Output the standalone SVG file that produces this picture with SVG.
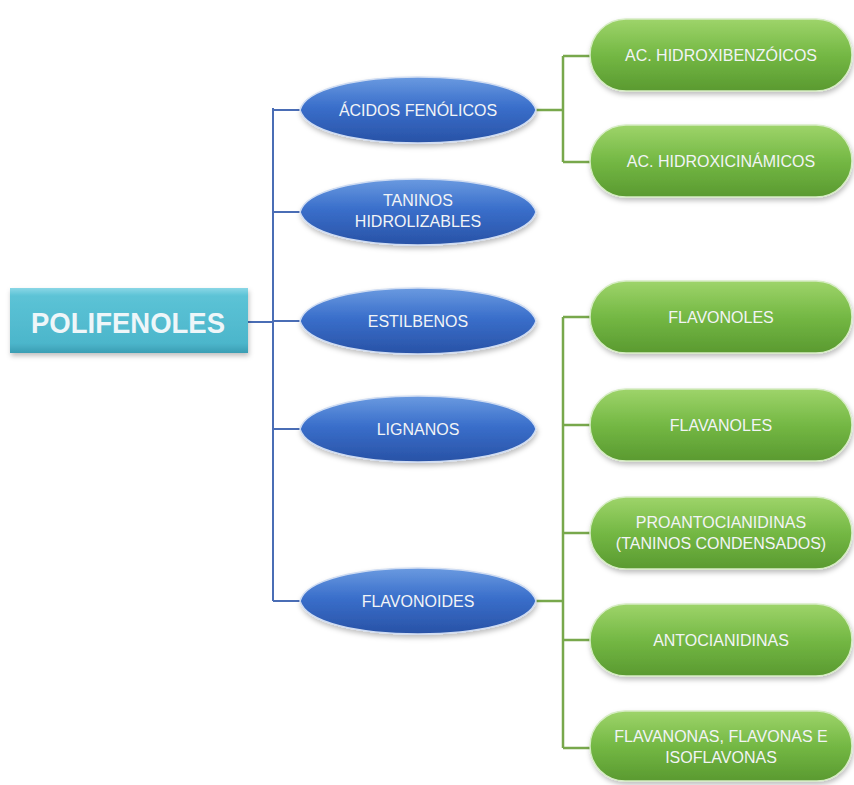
<svg xmlns="http://www.w3.org/2000/svg" width="854" height="785" viewBox="0 0 854 785">
<defs>
<linearGradient id="gBlue" x1="0" y1="0" x2="0" y2="1">
<stop offset="0" stop-color="#6a9ae0"/>
<stop offset="0.45" stop-color="#3a6fcb"/>
<stop offset="1" stop-color="#2852a6"/>
</linearGradient>
<linearGradient id="gGreen" x1="0" y1="0" x2="0" y2="1">
<stop offset="0" stop-color="#9ed46a"/>
<stop offset="0.5" stop-color="#74b844"/>
<stop offset="1" stop-color="#5a9a30"/>
</linearGradient>
<linearGradient id="gTeal" x1="0" y1="0" x2="0" y2="1">
<stop offset="0" stop-color="#8ad7e6"/>
<stop offset="0.12" stop-color="#5cc3d6"/>
<stop offset="0.85" stop-color="#4cb6cb"/>
<stop offset="1" stop-color="#3a9db3"/>
</linearGradient>
<filter id="sh" x="-10%" y="-20%" width="120%" height="150%">
<feDropShadow dx="1" dy="3" stdDeviation="2.5" flood-color="#000" flood-opacity="0.25"/>
</filter>
<path id="lens" d="M-118 0 C-112 -22 -58 -33 0 -33 C58 -33 112 -22 118 0 C112 22 58 33 0 33 C-58 33 -112 22 -118 0 Z"/>
</defs>
<style>
.blue{fill:url(#gBlue);stroke:#cfdcf2;stroke-width:1.5;filter:url(#sh)}
.green{fill:url(#gGreen);stroke:#d6ecc4;stroke-width:1.5;filter:url(#sh)}
.t{font-family:"Liberation Sans",Arial,sans-serif;font-size:16px;fill:#f2f4f6;text-anchor:middle}
.bl{fill:none;stroke:#4a6db5;stroke-width:2}
.gl{fill:none;stroke:#78a84c;stroke-width:2.5}
</style>
<rect width="854" height="785" fill="#ffffff"/>
<g id="connectors">
<path class="bl" d="M248 322 H273 M273 108 V601 M273 110 H302 M273 212 H302 M273 321 H302 M273 429 H302 M273 601 H302"/>
<path class="gl" d="M536 110 H563 M563 56 V162 M563 56 H592 M563 162 H592"/>
<path class="gl" d="M536 601 H563 M563 317 V748 M563 317 H592 M563 425 H592 M563 533 H592 M563 640 H592 M563 748 H592"/>
</g>
<g id="polifenoles">
<rect x="10" y="288" width="238" height="65" fill="url(#gTeal)" filter="url(#sh)"/>
<text x="128" y="333" font-family="Liberation Sans,Arial,sans-serif" font-weight="bold" font-size="30" fill="#eef6f9" text-anchor="middle" textLength="194" lengthAdjust="spacingAndGlyphs">POLIFENOLES</text>
</g>
<g id="acidos-fenolicos">
<use href="#lens" class="blue" transform="translate(418 110)"/>
<text class="t" x="418" y="116">ÁCIDOS FENÓLICOS</text>
</g>
<g id="taninos-hidrolizables">
<use href="#lens" class="blue" transform="translate(418 212)"/>
<text class="t" x="418" y="206">TANINOS</text>
<text class="t" x="418" y="227">HIDROLIZABLES</text>
</g>
<g id="estilbenos">
<use href="#lens" class="blue" transform="translate(418 321)"/>
<text class="t" x="418" y="327">ESTILBENOS</text>
</g>
<g id="lignanos">
<use href="#lens" class="blue" transform="translate(418 429)"/>
<text class="t" x="418" y="435">LIGNANOS</text>
</g>
<g id="flavonoides">
<use href="#lens" class="blue" transform="translate(418 601)"/>
<text class="t" x="418" y="607">FLAVONOIDES</text>
</g>
<g id="ac-hidroxibenzoicos">
<rect class="green" x="590" y="19" width="262" height="72" rx="36"/>
<text class="t" x="721" y="61">AC. HIDROXIBENZÓICOS</text>
</g>
<g id="ac-hidroxicinamicos">
<rect class="green" x="590" y="125" width="262" height="72" rx="36"/>
<text class="t" x="721" y="167">AC. HIDROXICINÁMICOS</text>
</g>
<g id="flavonoles">
<rect class="green" x="590" y="281" width="262" height="72" rx="36"/>
<text class="t" x="721" y="323">FLAVONOLES</text>
</g>
<g id="flavanoles">
<rect class="green" x="590" y="389" width="262" height="72" rx="36"/>
<text class="t" x="721" y="431">FLAVANOLES</text>
</g>
<g id="proantocianidinas">
<rect class="green" x="590" y="497" width="262" height="72" rx="36"/>
<text class="t" x="721" y="528">PROANTOCIANIDINAS</text>
<text class="t" x="721" y="549">(TANINOS CONDENSADOS)</text>
</g>
<g id="antocianidinas">
<rect class="green" x="590" y="604" width="262" height="72" rx="36"/>
<text class="t" x="721" y="646">ANTOCIANIDINAS</text>
</g>
<g id="flavanonas">
<rect class="green" x="590" y="711" width="262" height="70" rx="35"/>
<text class="t" x="721" y="742">FLAVANONAS, FLAVONAS E</text>
<text class="t" x="721" y="763">ISOFLAVONAS</text>
</g>
</svg>
